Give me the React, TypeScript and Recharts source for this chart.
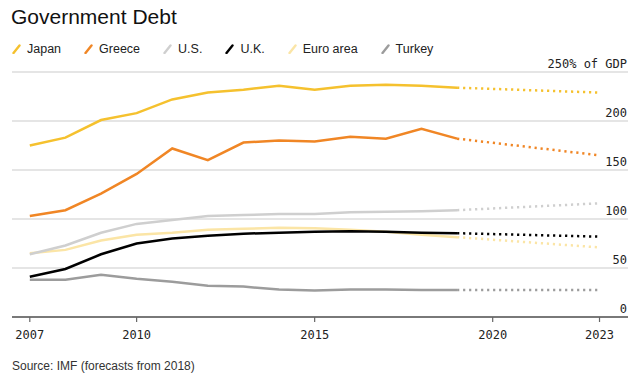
import React from "react";
import { LineChart, Line, XAxis, YAxis, CartesianGrid } from "recharts";

const years = [2007, 2008, 2009, 2010, 2011, 2012, 2013, 2014, 2015, 2016, 2017, 2018, 2019];
const forecastYear = 2023;
const xTicks = [2007, 2010, 2015, 2020, 2023];
const yTicks = [0, 50, 100, 150, 200, 250];

const japan = [175, 183, 201, 208, 222, 229, 232, 236, 232, 236, 237, 236, 234];
const greece = [103, 109, 126, 146, 172, 160, 178, 180, 179, 184, 182, 192, 182];
const us = [64, 73, 86, 95, 99, 103, 104, 105, 105, 107, 107.5, 108, 109];
const uk = [41, 49, 64, 75, 80, 83, 85, 86, 87, 87.5, 87, 86, 85.5];
const euro = [65, 68.5, 78, 84, 86, 89, 90, 91, 90.5, 89, 87, 84, 81.5];
const turkey = [38, 38, 43, 39, 36, 32, 31, 28, 27, 28, 28, 27.5, 27.5];

const japanF = 229;
const greeceF = 165;
const usF = 116;
const ukF = 82;
const euroF = 71;
const turkeyF = 27.5;

const series = [
  { key: "japan", name: "Japan", color: "#f5c12e", values: japan, forecast: japanF },
  { key: "greece", name: "Greece", color: "#f08625", values: greece, forecast: greeceF },
  { key: "us", name: "U.S.", color: "#cfcfcf", values: us, forecast: usF },
  { key: "uk", name: "U.K.", color: "#000000", values: uk, forecast: ukF },
  { key: "euro", name: "Euro area", color: "#fbe5a6", values: euro, forecast: euroF },
  { key: "turkey", name: "Turkey", color: "#9c9c9c", values: turkey, forecast: turkeyF },
];

const lastIdx = years.length - 1;
const data: any[] = years.map((y, i) => {
  const row: any = { year: y };
  series.forEach((s) => {
    row[s.key] = s.values[i];
    row[s.key + "F"] = i === lastIdx ? s.values[i] : null;
  });
  return row;
});
{
  const row: any = { year: forecastYear };
  series.forEach((s) => {
    row[s.key] = null;
    row[s.key + "F"] = s.forecast;
  });
  data.push(row);
}

const SANS = "'Liberation Sans', Arial, sans-serif";
const MONO = "'DejaVu Sans Mono', monospace";

const renderYTick = (props: any) => {
  const { y, payload } = props;
  const label = payload.value === 250 ? "250% of GDP" : String(payload.value);
  return (
    <text x={627} y={y - 4} textAnchor="end" fontFamily={MONO} fontSize={12} fill="#222">
      {label}
    </text>
  );
};

const Swatch = ({ color }: { color: string }) => (
  <svg width={9} height={10} style={{ display: "block" }}>
    <line x1={1.5} y1={9} x2={7.5} y2={1.5} stroke={color} strokeWidth={2.4} strokeLinecap="round" />
  </svg>
);

export default function App() {
  return (
    <div style={{ position: "absolute", left: 0, top: 0, width: 640, height: 378, background: "#fff" }}>
      <div
        style={{
          position: "absolute",
          left: 11,
          top: 5,
          fontFamily: SANS,
          fontSize: 21,
          color: "#111",
          whiteSpace: "nowrap",
        }}
      >
        Government Debt
      </div>
      <div
        style={{
          position: "absolute",
          left: 12,
          top: 42,
          display: "flex",
          alignItems: "center",
          fontFamily: SANS,
          fontSize: 12.5,
          color: "#222",
          whiteSpace: "nowrap",
        }}
      >
        {series.map((s) => (
          <div key={s.key} style={{ display: "flex", alignItems: "center", marginRight: 23 }}>
            <Swatch color={s.color} />
            <span style={{ marginLeft: 6 }}>{s.name}</span>
          </div>
        ))}
      </div>
      <LineChart width={640} height={378} data={data} margin={{ top: 72, right: 10, bottom: 31, left: 12 }}>
        <CartesianGrid horizontal vertical={false} stroke="#dcdcdc" strokeWidth={1.5} />
        <XAxis
          dataKey="year"
          type="number"
          domain={[2006.5, 2023.8]}
          allowDataOverflow
          ticks={xTicks}
          height={30}
          tickSize={5}
          tickMargin={8}
          axisLine={{ stroke: "#555", strokeWidth: 1.5 }}
          tickLine={{ stroke: "#666", strokeWidth: 1.2 }}
          tick={{ fontFamily: MONO, fontSize: 12, fill: "#222" }}
        />
        <YAxis
          orientation="right"
          width={2}
          domain={[0, 250]}
          ticks={yTicks}
          axisLine={false}
          tickLine={false}
          tickSize={0}
          tickMargin={0}
          tick={renderYTick}
        />
        {[...series].reverse().map((s) => (
          <Line
            key={s.key + "F"}
            dataKey={s.key + "F"}
            stroke={s.color}
            strokeWidth={2.5}
            strokeDasharray="2.2 3.8"
            dot={false}
            connectNulls
            isAnimationActive={false}
          />
        ))}
        {[...series].reverse().map((s) => (
          <Line
            key={s.key}
            dataKey={s.key}
            stroke={s.color}
            strokeWidth={2.5}
            dot={false}
            type="linear"
            isAnimationActive={false}
          />
        ))}
      </LineChart>
      <div
        style={{
          position: "absolute",
          left: 12,
          top: 359,
          fontFamily: SANS,
          fontSize: 12,
          color: "#333",
          whiteSpace: "nowrap",
        }}
      >
        Source: IMF (forecasts from 2018)
      </div>
    </div>
  );
}
